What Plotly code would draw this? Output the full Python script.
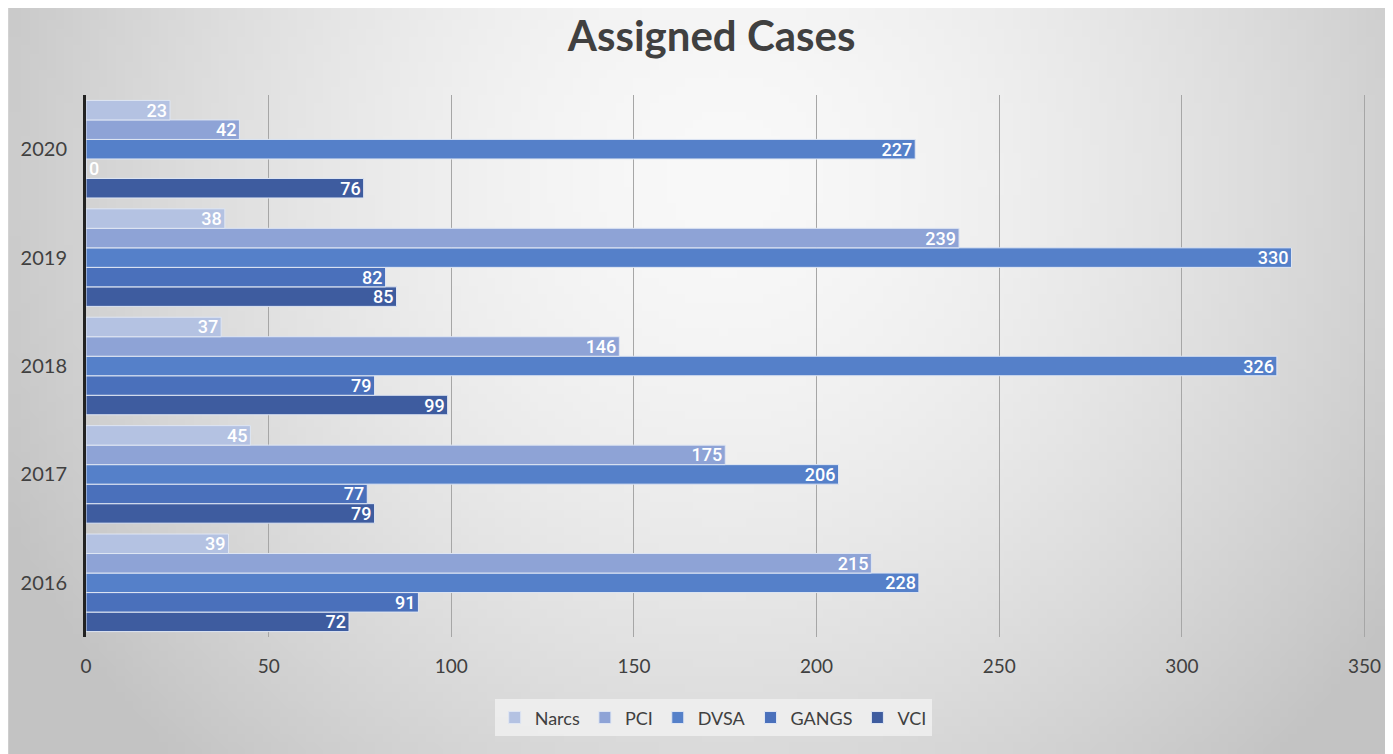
import base64
import struct
import zlib

import numpy as np
import plotly.graph_objects as go

years = ["2016", "2017", "2018", "2019", "2020"]
series_names = ["Narcs", "PCI", "DVSA", "GANGS", "VCI"]
narcs = [39, 45, 37, 38, 23]
pci = [215, 175, 146, 239, 42]
dvsa = [228, 206, 326, 330, 227]
gangs = [91, 77, 79, 82, 0]
vci = [72, 79, 99, 85, 76]
colors = {"Narcs": "#b4c2e2", "PCI": "#8ea3d6", "DVSA": "#5580c9", "GANGS": "#4a70bb", "VCI": "#3e5c9f"}
values = {"Narcs": narcs, "PCI": pci, "DVSA": dvsa, "GANGS": gangs, "VCI": vci}

W, H = 1385, 746
ML, MR, MT, MB = 78, 21, 87, 117
PW, PH = W - ML - MR, H - MT - MB


def gradient_png(w=160, h=90):
    xs = np.linspace(0, 1, w)[None, :]
    ys = np.linspace(0, 1, h)[:, None]
    r = np.sqrt(((xs - 0.52) / 0.5) ** 2 + ((ys - 0.22) / 0.95) ** 2)
    v = np.clip(249 - 42 * r ** 1.6, 195, 250).astype(np.uint8)
    raw = b"".join(b"\x00" + bytes(np.repeat(row, 3)) for row in v)

    def chunk(t, d):
        c = struct.pack(">I", len(d)) + t + d
        return c + struct.pack(">I", zlib.crc32(t + d) & 0xFFFFFFFF)

    png = b"\x89PNG\r\n\x1a\n" + chunk(b"IHDR", struct.pack(">IIBBBBB", w, h, 8, 2, 0, 0, 0))
    png += chunk(b"IDAT", zlib.compress(raw, 9)) + chunk(b"IEND", b"")
    return "data:image/png;base64," + base64.b64encode(png).decode()


label_font = dict(color="white", size=18, family="Roboto, sans-serif", weight=500)

fig = go.Figure()
for name in reversed(series_names):
    vals = values[name]
    fig.add_trace(go.Bar(
        y=years, x=vals, name=name, orientation="h",
        marker=dict(color=colors[name], line=dict(color="#dfe6f3", width=1)),
        text=[str(v) for v in vals],
        textposition=["inside" if v > 0 else "outside" for v in vals],
        insidetextanchor="end",
        textangle=0,
        textfont=label_font,
        outsidetextfont=label_font,
        constraintext="none",
        cliponaxis=False,
    ))

fig.update_layout(
    width=W, height=H,
    barmode="group", bargap=0.1, bargroupgap=0,
    paper_bgcolor="#e2e2e2", plot_bgcolor="rgba(0,0,0,0)",
    images=[dict(source=gradient_png(), xref="paper", yref="paper",
                 x=-ML / PW, y=1 + MT / PH, sizex=W / PW, sizey=H / PH,
                 xanchor="left", yanchor="top", sizing="stretch", layer="below")],
    margin=dict(l=ML, r=MR, t=MT, b=MB),
    title=dict(text="<b>Assigned Cases</b>", x=0.508, xanchor="center", y=0.962, yanchor="middle",
               font=dict(size=42, color="#404040", family="Lato, sans-serif")),
    xaxis=dict(range=[0, 350.4], dtick=50, showgrid=True, gridcolor="#a6a6a6", gridwidth=1,
               zeroline=False, showline=False, ticks="",
               tickfont=dict(size=19, color="#404040", family="Lato, sans-serif"),
               ticklabelstandoff=16),
    yaxis=dict(showline=True, linecolor="#222222", linewidth=3, ticks="", automargin=False,
               tickfont=dict(size=20, color="#404040", family="Lato, sans-serif"),
               ticklabelstandoff=12),
    legend=dict(orientation="h", x=0.49, xanchor="center", y=-0.115, yanchor="top",
                traceorder="reversed", bgcolor="rgba(240,240,240,0.85)", itemwidth=30,
                font=dict(size=18, color="#404040", family="Lato, sans-serif")),
    font=dict(color="#404040"),
)

fig.write_html("out.html")
